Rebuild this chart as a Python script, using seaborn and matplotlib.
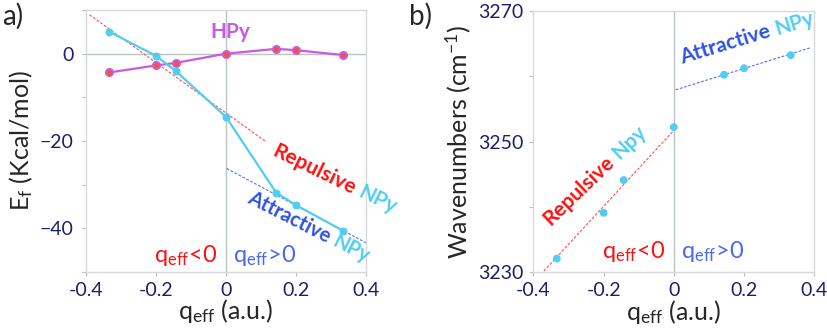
import numpy as np
import matplotlib
matplotlib.use("Agg")
import matplotlib.pyplot as plt
from matplotlib.ticker import MultipleLocator
import seaborn as sns

# effective charge of the substituent (same x for every series)
q_eff = [-0.333, -0.2, -0.143, 0.0, 0.143, 0.2, 0.333]

# panel a: formation energies (kcal/mol)
hpy_ef = [-4.3, -2.7, -2.1, 0.0, 1.1, 0.8, -0.3]
npy_ef = [5.0, -0.5, -4.0, -14.5, -31.8, -34.7, -40.5]

# panel b: N-H stretching wavenumbers (cm-1)
npy_wn = [3232.1, 3239.1, 3244.1, 3252.2, 3260.2, 3261.2, 3263.2]

# trend lines (end points)
a_rep_fit_x = [-0.39, 0.113]
a_rep_fit_y = [8.9, -20.1]
a_att_fit_x = [0.002, 0.43]
a_att_fit_y = [-26.3, -44.6]
b_rep_fit_x = [-0.37, 0.0]
b_rep_fit_y = [3230.2, 3251.7]
b_att_fit_x = [0.005, 0.387]
b_att_fit_y = [3257.9, 3264.3]

CYAN = "#52CDF2"
MAGENTA = "#C75BE3"
ORANGE = "#F2562C"
RED = "#FF1010"
BLUE = "#2F52E6"
BLUE2 = "#4A68EE"
NAVY = "#1E1E6E"
FRAME = "#D6D9D9"
ZERO = "#BCC3C3"

sns.set_style("white")
plt.rcParams["font.family"] = ["Lato", "DejaVu Sans"]
plt.rcParams["mathtext.default"] = "regular"

fig = plt.figure(figsize=(8.27, 3.29), dpi=100)
ax_a = fig.add_axes([0.104, 0.1733, 0.3386, 0.7963])
ax_b = fig.add_axes([0.6449, 0.1723, 0.3397, 0.7952])
renderer = fig.canvas.get_renderer()


def style_axes(ax, ymin, ymax, ypad, yoffset=0):
    ax.set_xlim(-0.4, 0.4)
    ax.set_ylim(ymin, ymax)
    ax.xaxis.set_major_locator(MultipleLocator(0.2))
    ax.yaxis.set_major_locator(MultipleLocator(20, offset=yoffset))
    ax.yaxis.set_minor_locator(MultipleLocator(10))
    ax.xaxis.set_major_formatter(lambda v, p: "0" if abs(v) < 1e-9 else f"{v:.1f}")
    for s in ax.spines.values():
        s.set_color(FRAME)
        s.set_linewidth(1.0)
    ax.tick_params(axis="both", which="both", direction="out", length=3,
                   width=0.8, color="#BFBFBF", labelcolor=NAVY,
                   labelsize=14, left=True, bottom=True)
    ax.tick_params(axis="x", pad=4)
    ax.tick_params(axis="y", pad=ypad)
    ax.set_xlabel("q$_{eff}$ (a.u.)", fontsize=18, labelpad=-1)


def two_tone(ax, x, y, first, second, c1, c2, angle, size=15):
    ax.text(x, y, first, color=c1, rotation=angle, rotation_mode="anchor",
            ha="left", va="baseline", fontsize=size, fontweight="bold")
    tmp = ax.text(0, 0, first, fontsize=size, fontweight="bold")
    w = tmp.get_window_extent(renderer).width + 0.25 * size * fig.dpi / 72
    tmp.remove()
    r = np.radians(angle)
    ax.annotate(second, xy=(x, y), xytext=(w * np.cos(r), w * np.sin(r)),
                textcoords="offset pixels", color=c2, rotation=angle,
                rotation_mode="anchor", ha="left", va="baseline",
                fontsize=size, fontweight="bold")


# ---------------- panel a
style_axes(ax_a, -50, 10, 6)
ax_a.axhline(0, color=ZERO, lw=1.0, zorder=1)
ax_a.axvline(0, color=ZERO, lw=1.0, zorder=1)
sns.lineplot(x=a_rep_fit_x, y=a_rep_fit_y, ax=ax_a, color="#FF5050",
             lw=0.8, dashes=(2.5, 1.5), zorder=2)
sns.lineplot(x=a_att_fit_x, y=a_att_fit_y, ax=ax_a, color="#5A6CF0",
             lw=0.8, dashes=(2.5, 1.5), zorder=2)
sns.lineplot(x=q_eff, y=hpy_ef, ax=ax_a, color=MAGENTA, lw=1.6,
             marker="o", markersize=5, markerfacecolor=ORANGE,
             markeredgecolor=MAGENTA, markeredgewidth=1.5, zorder=3)
sns.lineplot(x=q_eff, y=npy_ef, ax=ax_a, color=CYAN, lw=1.6,
             marker="o", markersize=5, markerfacecolor=CYAN,
             markeredgecolor=CYAN, zorder=4)
ax_a.set_ylabel("E$_{f}$ (Kcal/mol)", fontsize=18, labelpad=3)

ax_a.text(0.011, 5.0, "HPy", color=MAGENTA, fontsize=15, fontweight="bold",
          ha="center", va="center")
two_tone(ax_a, 0.129, -23.2, "Repulsive", "NPy", RED, CYAN, -26)
two_tone(ax_a, 0.057, -34.0, "Attractive", "NPy", BLUE, CYAN, -27, size=14.5)
ax_a.text(-0.117, -46.3, "q$_{eff}$<0", color=RED, fontsize=17,
          ha="center", va="center")
ax_a.text(0.111, -46.3, "q$_{eff}$>0", color=BLUE2, fontsize=17,
          ha="center", va="center")

# ---------------- panel b
style_axes(ax_b, 3230, 3270, 4, yoffset=10)
ax_b.axvline(0, color=ZERO, lw=1.0, zorder=1)
sns.lineplot(x=b_rep_fit_x, y=b_rep_fit_y, ax=ax_b, color="#FF5050",
             lw=0.8, dashes=(2.5, 1.5), zorder=2)
sns.lineplot(x=b_att_fit_x, y=b_att_fit_y, ax=ax_b, color="#5A6CF0",
             lw=0.8, dashes=(2.5, 1.5), zorder=2)
sns.scatterplot(x=q_eff, y=npy_wn, ax=ax_b, color=CYAN, s=32,
                edgecolor="none", zorder=3)
ax_b.set_ylabel("Wavenumbers (cm$^{-1}$)", fontsize=18, labelpad=4)

two_tone(ax_b, -0.351, 3237.0, "Repulsive", "Npy", RED, CYAN, 44)
two_tone(ax_b, 0.024, 3261.8, "Attractive", "NPy", BLUE, CYAN, 17)
ax_b.text(-0.115, 3233.2, "q$_{eff}$<0", color=RED, fontsize=17,
          ha="center", va="center")
ax_b.text(0.11, 3233.2, "q$_{eff}$>0", color=BLUE2, fontsize=17,
          ha="center", va="center")

fig.text(0.002, 0.99, "a)", fontsize=20, ha="left", va="top")
fig.text(0.494, 0.99, "b)", fontsize=20, ha="left", va="top")

fig.savefig("out.png", dpi=100)
